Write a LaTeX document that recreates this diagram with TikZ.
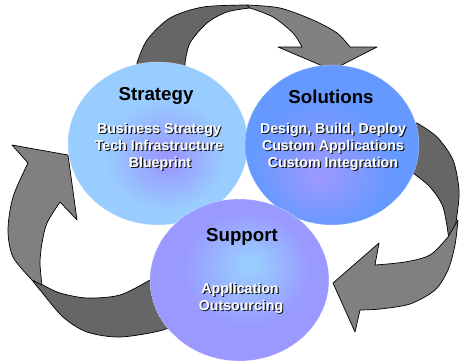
\documentclass[tikz,border=0pt]{standalone}
\usepackage{fontspec}
\setmainfont{Liberation Sans}
\definecolor{ribdark}{HTML}{666666}
\definecolor{riblight}{HTML}{808080}
\definecolor{cLight}{HTML}{99CCFF}
\definecolor{cPurple}{HTML}{9999FF}
\definecolor{cMid}{HTML}{6699FF}
\pgfdeclareradialshading{stratshade}{\pgfpoint{3bp}{-5bp}}{color(0bp)=(cPurple); color(2bp)=(cPurple); color(17bp)=(cLight); color(50bp)=(cLight)}
\pgfdeclareradialshading{solshade}{\pgfpoint{-4bp}{-10bp}}{color(0bp)=(cPurple); color(2bp)=(cPurple); color(20bp)=(cMid); color(50bp)=(cMid)}
\pgfdeclareradialshading{supshade}{\pgfpoint{3bp}{5bp}}{color(0bp)=(cLight); color(2bp)=(cLight); color(18bp)=(cPurple); color(50bp)=(cPurple)}
\newcommand\shline[4]{%
  \node[subsh] (#1s) at (#2+1.2,#3+1.2) {#4};
  \node[subtx] (#1) at (#2,#3) {#4};}
\begin{document}
\begin{tikzpicture}[x=1pt,y=-1pt,
  ribbon/.style={draw=black, line width=0.7pt, line join=round},
  darkrib/.style={ribbon, fill=ribdark},
  lightrib/.style={ribbon, fill=riblight},
  bubble/.style={draw=white, densely dotted, line width=0.5pt},
  title/.style={font=\fontsize{18.7}{20}\selectfont\bfseries, anchor=base, inner sep=0pt, text=black},
  subtx/.style={font=\fontsize{14.2}{17}\selectfont\bfseries, anchor=base, inner sep=0pt, text=white},
  subsh/.style={font=\fontsize{14.2}{17}\selectfont\bfseries, anchor=base, inner sep=0pt, text=black!90}]
\useasboundingbox (0,0) rectangle (460,362);
\fill[white] (0,0) rectangle (460,362);

% top arrow
\filldraw[darkrib] (137,80) -- plot[smooth] coordinates {(137,63) (147,40) (170,18) (203,7) (247,5)}
  -- plot[smooth] coordinates {(250,8) (227,12) (207,23) (190,43) (185,63)} -- (185,80) -- cycle;
\filldraw[lightrib] plot[smooth] coordinates {(247,5) (280,8) (313,20) (337,33) (350,47)}
  -- (377,47) -- (332,70) -- (278,47) -- (302,47)
  -- plot[smooth] coordinates {(302,47) (293,33) (273,17) (250,8)} -- cycle;

% right arrow
\filldraw[darkrib] (400,125) -- plot[smooth] coordinates {(417,123) (437,137) (453,160) (459,190) (457,215) (452,250)}
  -- plot[smooth] coordinates {(449,240) (443,207) (430,187) (413,173)} -- (400,168) -- cycle;
\filldraw[lightrib] plot[smooth] coordinates {(458,220) (455,245) (448,270) (435,290) (410,304) (380,309) (360,310)}
  -- (355,332) -- (333,283) -- (379,243) -- (375,265)
  -- plot[smooth] coordinates {(375,265) (405,262) (430,255) (448,237)} -- cycle;

% left arrow
\filldraw[darkrib] plot[smooth] coordinates {(32,280) (40,290) (63,317) (87,332) (120,337) (163,330) (185,318)}
  -- (170,275) -- plot[smooth] coordinates {(150,280) (120,295) (87,298) (60,293) (43,285)} -- cycle;
\filldraw[lightrib] plot[smooth] coordinates {(42,285) (40,263) (42,243) (47,223) (60,202)}
  -- (77,220) -- (68,155) -- (12,145) -- (28,163)
  -- plot[smooth] coordinates {(28,163) (13,197) (8,230) (13,257) (32,280)} -- cycle;

% circles
\shade[shading=stratshade] (158,143.5) ellipse [x radius=90pt, y radius=81.5pt];
\draw[bubble] (158,143.5) ellipse [x radius=90pt, y radius=81.5pt];
\shade[shading=solshade] (332,145) ellipse [x radius=87pt, y radius=80pt];
\draw[bubble] (332,145) ellipse [x radius=87pt, y radius=80pt];
\shade[shading=supshade] (239.5,280) ellipse [x radius=89.5pt, y radius=81pt];
\draw[bubble] (239.5,280) ellipse [x radius=89.5pt, y radius=81pt];

% texts
\node[title] (strt) at (156,100) {Strategy};
\shline{st1}{159}{133}{Business Strategy}
\shline{st2}{159}{150}{Tech Infrastructure}
\shline{st3}{160}{167}{Blueprint}

\node[title] (solt) at (331,103) {Solutions};
\shline{so1}{333}{133}{Design, Build, Deploy}
\shline{so2}{333}{150}{Custom Applications}
\shline{so3}{333}{167}{Custom Integration}

\node[title] (supt) at (242,241) {Support};
\shline{su1}{240}{293}{Application}
\shline{su2}{241}{310}{Outsourcing}
\end{tikzpicture}
\end{document}
